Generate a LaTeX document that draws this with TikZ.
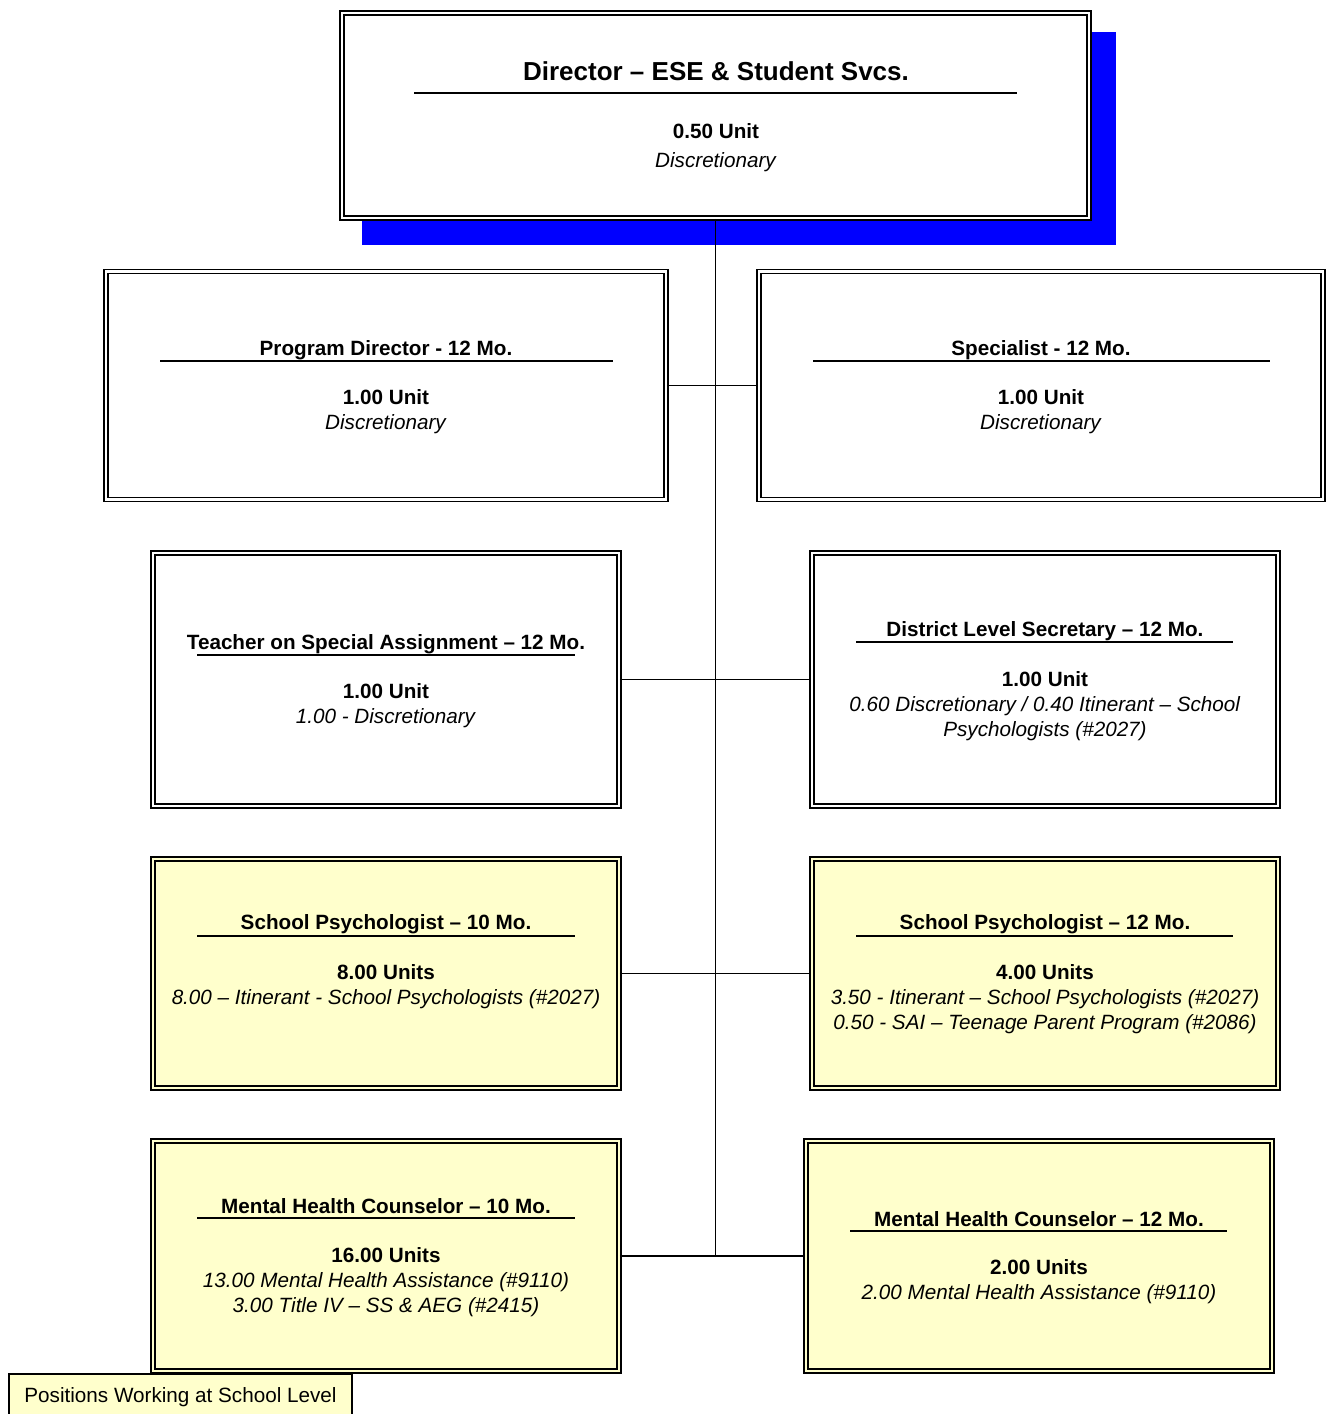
\documentclass[tikz,border=0pt]{standalone}
\usepackage{fontspec}
\setmainfont{Liberation Sans}
\usepackage{tikz}
\usetikzlibrary{positioning}
\definecolor{schoolyellow}{HTML}{FFFFCC}
\definecolor{shadowblue}{HTML}{0000FF}

\begin{document}
\begin{tikzpicture}[
    x=0.75pt, y=-0.75pt,
    box/.style={draw, double=white, double distance=1.8pt, line width=1.3pt, fill=white, inner sep=0pt},
    schoolbox/.style={box, double=schoolyellow, fill=schoolyellow},
    title/.style={font=\fontsize{15.5}{18.75}\selectfont\bfseries},
    head/.style={font=\fontsize{19.5}{23}\selectfont\bfseries},
    body/.style={align=center, font=\fontsize{15.5}{18.75}\selectfont, inner sep=0pt},
    rule/.style={line width=1.2pt},
    link/.style={draw, line width=1pt}
]
\useasboundingbox (0,0) rectangle (1327,1414);

% director with blue shadow
\fill[shadowblue] (362,32) rectangle (1116,245);
\node[box, minimum width=560.25pt, minimum height=153.75pt] (dir) at (715.5,115.5) {};
\node[head] (dirT) at (716,71) {Director -- ESE \& Student Svcs.};
\draw[rule] (414,93) -- (1017,93);
\node[body] (dirB) at (716,147.5) {\textbf{0.50 Unit}\\[3.5pt] \textit{Discretionary}};

% second row
\node[box, minimum width=420pt, minimum height=171pt] (pd) at (386,385.5) {};
\node[title] (pdT) at (386,350) {Program Director - 12 Mo.};
\draw[rule] (160,361) -- (613,361);
\node[body] (pdB) at (386,411.5) {\textbf{1.00 Unit}\\ \textit{Discretionary}};

\node[box, minimum width=423pt, minimum height=171pt] (spec) at (1041,385.5) {};
\node[title] (specT) at (1041,350) {Specialist - 12 Mo.};
\draw[rule] (813,361) -- (1270,361);
\node[body] (specB) at (1041,411.5) {\textbf{1.00 Unit}\\ \textit{Discretionary}};

% third row
\node[box, minimum width=349.5pt, minimum height=189.75pt] (tosa) at (386,679.5) {};
\node[title] (tosaT) at (386,644) {Teacher on Special Assignment -- 12 Mo.};
\draw[rule] (197,655) -- (575,655);
\node[body] (tosaB) at (386,706) {\textbf{1.00 Unit}\\ \textit{1.00 - Discretionary}};

\node[box, minimum width=349.5pt, minimum height=189.75pt] (dls) at (1045,679.5) {};
\node[title] (dlsT) at (1045,631) {District Level Secretary -- 12 Mo.};
\draw[rule] (856,642) -- (1233,642);
\node[body] (dlsB) at (1045,706) {\textbf{1.00 Unit}\\ \textit{0.60 Discretionary / 0.40 Itinerant -- School}\\ \textit{Psychologists (\#2027)}};

% fourth row
\node[schoolbox, minimum width=349.5pt, minimum height=171.75pt] (sp10) at (386,973.5) {};
\node[title] (sp10T) at (386,924) {School Psychologist -- 10 Mo.};
\draw[rule] (197,936) -- (575,936);
\node[body] (sp10B) at (386,987) {\textbf{8.00 Units}\\ \textit{8.00 -- Itinerant - School Psychologists (\#2027)}};

\node[schoolbox, minimum width=349.5pt, minimum height=171.75pt] (sp12) at (1045,973.5) {};
\node[title] (sp12T) at (1045,924) {School Psychologist -- 12 Mo.};
\draw[rule] (856,936) -- (1233,936);
\node[body] (sp12B) at (1045,999.5) {\textbf{4.00 Units}\\ \textit{3.50 - Itinerant -- School Psychologists (\#2027)}\\ \textit{0.50 - SAI -- Teenage Parent Program (\#2086)}};

% fifth row
\node[schoolbox, minimum width=349.5pt, minimum height=172.5pt] (mhc10) at (386,1256) {};
\node[title] (mhc10T) at (386,1206) {Mental Health Counselor -- 10 Mo.};
\draw[rule] (197,1218) -- (575,1218);
\node[body] (mhc10B) at (386,1282.5) {\textbf{16.00 Units}\\ \textit{13.00 Mental Health Assistance (\#9110)}\\ \textit{3.00 Title IV -- SS \& AEG (\#2415)}};

\node[schoolbox, minimum width=349.5pt, minimum height=172.5pt] (mhc12) at (1039,1256) {};
\node[title] (mhc12T) at (1039,1219) {Mental Health Counselor -- 12 Mo.};
\draw[rule] (850,1231) -- (1227,1231);
\node[body] (mhc12B) at (1039,1281.5) {\textbf{2.00 Units}\\ \textit{2.00 Mental Health Assistance (\#9110)}};

% connectors
\coordinate (trunk) at (dir.south |- mhc10.east);
\draw[link] (dir.south) -- (trunk);
\draw[link] (pd.east) -- (spec.west);
\draw[link] (tosa.east) -- (dls.west);
\draw[link] (sp10.east) -- (sp12.west);
\draw[link] (mhc10.east) -- (mhc12.west);

% legend
\node[draw, line width=1.2pt, fill=schoolyellow, minimum width=257pt, minimum height=36pt, inner sep=0pt] (legend) at (180.5,1398) {};
\node[body] (legendT) at (180.5,1397.5) {Positions Working at School Level};
\end{tikzpicture}
\end{document}
